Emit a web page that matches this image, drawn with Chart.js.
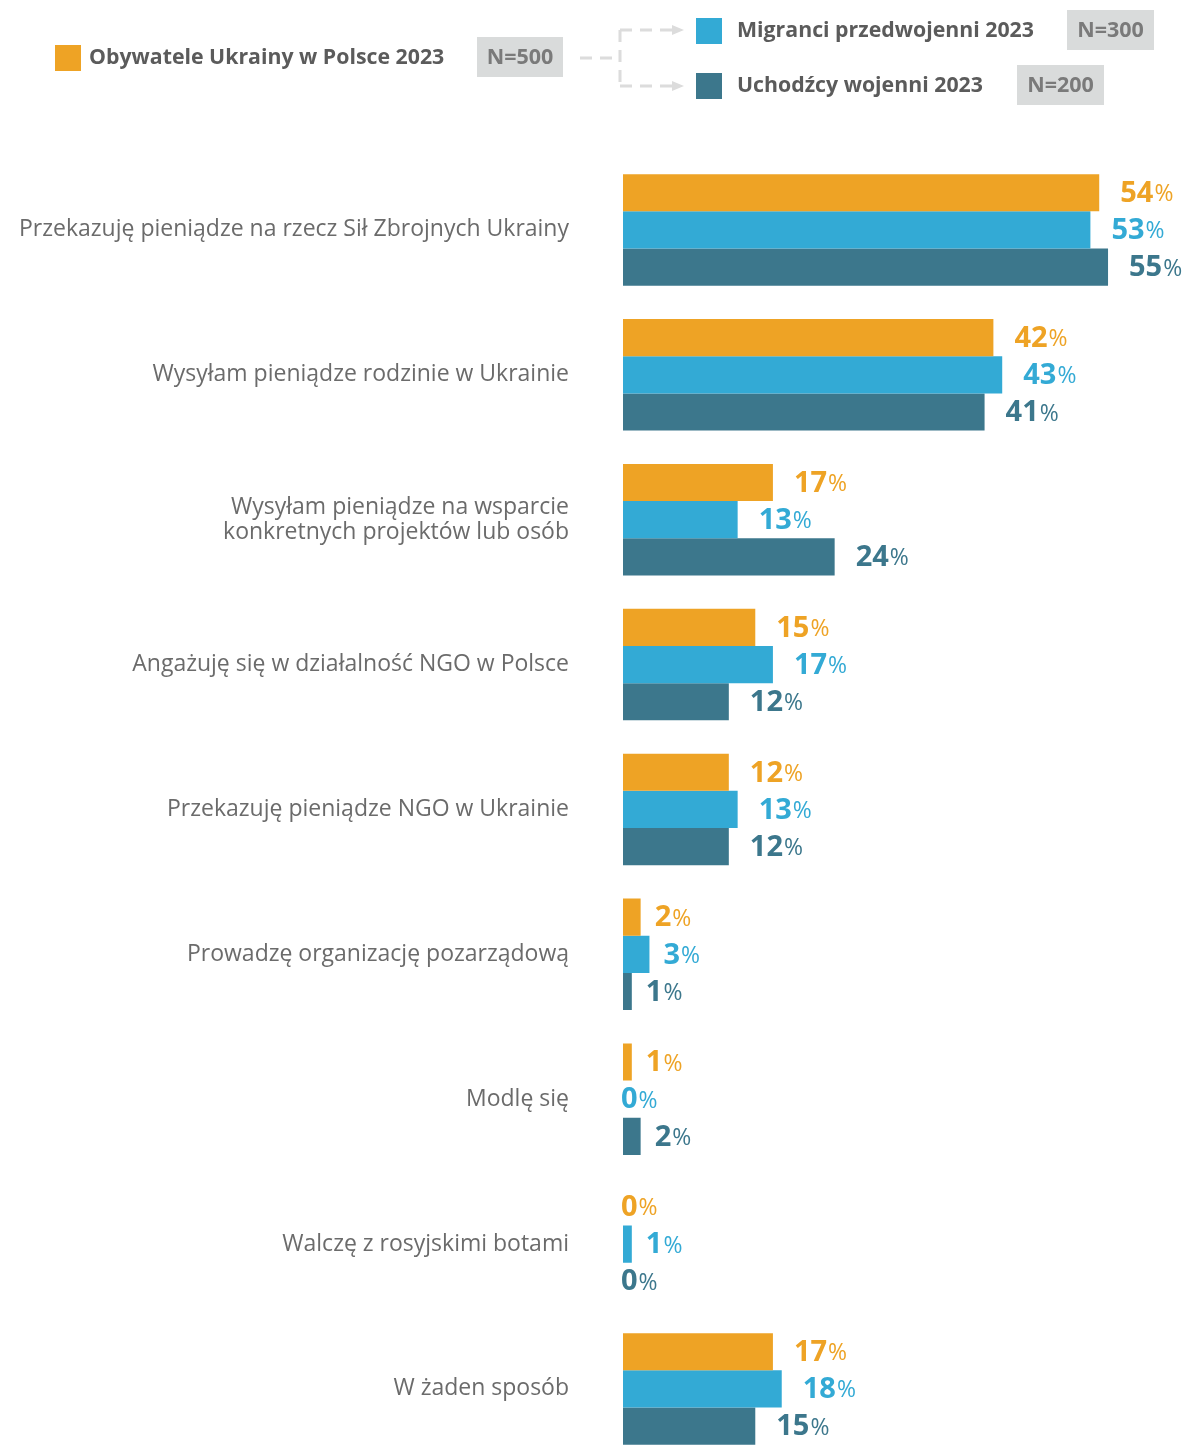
<!DOCTYPE html>
<html>
<head>
<meta charset="utf-8">
<script src="https://cdn.jsdelivr.net/npm/chart.js@4/dist/chart.umd.min.js"></script>
<style>
  html, body { margin: 0; padding: 0; background: #fff; overflow: hidden; }
  #wrap { position: relative; width: 1184px; height: 1520px; }
</style>
</head>
<body>
<div id="wrap"><canvas id="barChart" width="1184" height="1520"></canvas></div>
<script>
// categories (answers)
var categories = [
  'Przekazuję pieniądze na rzecz Sił Zbrojnych Ukrainy',
  'Wysyłam pieniądze rodzinie w Ukrainie',
  ['Wysyłam pieniądze na wsparcie', 'konkretnych projektów lub osób'],
  'Angażuję się w działalność NGO w Polsce',
  'Przekazuję pieniądze NGO w Ukrainie',
  'Prowadzę organizację pozarządową',
  'Modlę się',
  'Walczę z rosyjskimi botami',
  'W żaden sposób'
];

// series
var seriesNames = ['Obywatele Ukrainy w Polsce 2023', 'Migranci przedwojenni 2023', 'Uchodźcy wojenni 2023'];
var sampleSizes = ['N=500', 'N=300', 'N=200'];
var allCitizens = [54, 42, 17, 15, 12, 2, 1, 0, 17];
var preWarMigrants = [53, 43, 13, 17, 13, 3, 0, 1, 18];
var warRefugees = [55, 41, 24, 12, 12, 1, 2, 0, 15];

var colors = ['#EEA325', '#33AAD5', '#3C778C'];

// value labels: bold number + light percent sign
var valueLabels = {
  id: 'valueLabels',
  afterDatasetsDraw: function (chart) {
    var ctx = chart.ctx;
    ctx.save();
    ctx.textBaseline = 'middle';
    ctx.textAlign = 'left';
    chart.data.datasets.forEach(function (ds, di) {
      var meta = chart.getDatasetMeta(di);
      meta.data.forEach(function (bar, i) {
        var v = ds.data[i];
        var off = v === 0 ? -2 : (v < 4 ? 14 : 21);
        var x = bar.x + off;
        var y = bar.y + 1;
        ctx.fillStyle = colors[di];
        ctx.font = 'bold 29px "Open Sans"';
        var num = String(v);
        ctx.fillText(num, x, y);
        var w = ctx.measureText(num).width;
        ctx.font = '23px "Open Sans"';
        ctx.fillText('%', x + w + 1, y + 1);
      });
    });
    ctx.restore();
  }
};

// legend on top with sample sizes and dashed connector
var topLegend = {
  id: 'topLegend',
  afterDraw: function (chart) {
    var ctx = chart.ctx;
    ctx.save();
    var items = [
      { sq: [55, 45], tx: 89, ty: 58, box: [477, 37, 86, 40] },
      { sq: [696, 18], tx: 737, ty: 31, box: [1067, 10, 87, 40] },
      { sq: [696, 73], tx: 737, ty: 86, box: [1017, 65, 87, 40] }
    ];
    items.forEach(function (it, i) {
      ctx.fillStyle = colors[i];
      ctx.fillRect(it.sq[0], it.sq[1], 26, 26);
      ctx.fillStyle = '#5b5b5b';
      ctx.font = 'bold 21.3px "Open Sans"';
      ctx.textBaseline = 'middle';
      ctx.textAlign = 'left';
      ctx.fillText(seriesNames[i], it.tx, it.ty);
      ctx.fillStyle = '#d9dbdb';
      ctx.fillRect(it.box[0], it.box[1], it.box[2], it.box[3]);
      ctx.fillStyle = '#7a7a7a';
      ctx.textAlign = 'center';
      ctx.font = 'bold 21.5px "Open Sans"';
      ctx.fillText(sampleSizes[i], it.box[0] + it.box[2] / 2, it.box[1] + it.box[3] / 2 + 1);
    });
    // connector
    ctx.strokeStyle = '#dcdcdc';
    ctx.lineWidth = 3;
    ctx.setLineDash([12, 8]);
    ctx.beginPath();
    ctx.moveTo(580, 58); ctx.lineTo(618, 58);
    ctx.moveTo(620, 30); ctx.lineTo(620, 86);
    ctx.moveTo(620, 30); ctx.lineTo(672, 30);
    ctx.moveTo(620, 86); ctx.lineTo(672, 86);
    ctx.stroke();
    ctx.setLineDash([]);
    ctx.fillStyle = '#dcdcdc';
    [30, 86].forEach(function (yy) {
      ctx.beginPath();
      ctx.moveTo(672, yy - 5); ctx.lineTo(684, yy); ctx.lineTo(672, yy + 5);
      ctx.closePath();
      ctx.fill();
    });
    ctx.restore();
  }
};

var ctx = document.getElementById('barChart');
new Chart(ctx, {
  type: 'bar',
  data: {
    labels: categories,
    datasets: [
      { label: seriesNames[0], data: allCitizens, backgroundColor: colors[0] },
      { label: seriesNames[1], data: preWarMigrants, backgroundColor: colors[1] },
      { label: seriesNames[2], data: warRefugees, backgroundColor: colors[2] }
    ]
  },
  options: {
    indexAxis: 'y',
    responsive: false,
    animation: false,
    devicePixelRatio: 1,
    layout: { padding: { top: 157.5, bottom: 8.5, left: 0, right: 1 } },
    datasets: { bar: { categoryPercentage: 0.77, barPercentage: 1.0 } },
    plugins: { legend: { display: false }, tooltip: { enabled: false } },
    scales: {
      x: { display: false, min: 0, max: 63.5 },
      y: {
        grid: { display: false },
        border: { display: false },
        ticks: {
          color: '#6b6b6b',
          padding: 46,
          font: { family: '"Open Sans"', size: 23, lineHeight: 1.1 }
        },
        afterFit: function (scale) { scale.width = 623; }
      }
    }
  },
  plugins: [valueLabels, topLegend]
});
</script>
</body>
</html>
